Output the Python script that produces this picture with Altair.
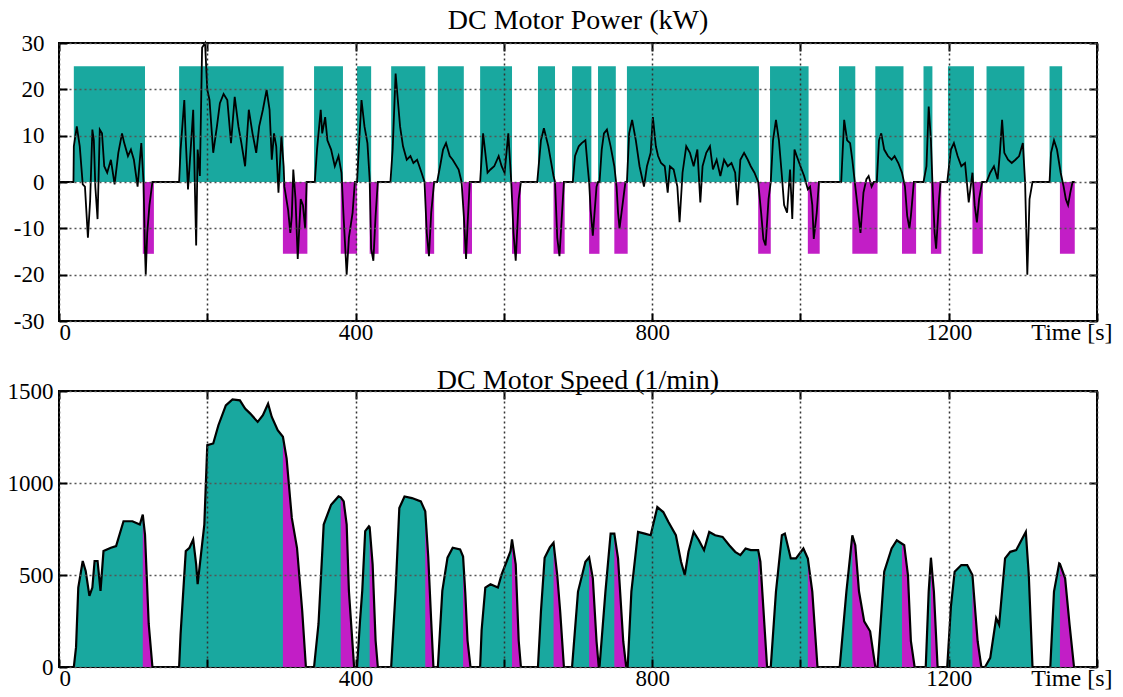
import altair as alt
import pandas as pd

TEAL = "#19a89f"
MAGENTA = "#c21ec6"
FONT = "Liberation Serif"
W = 1038

# Driving phases (motor work) and braking phases (recuperation), seconds
drive_start = [20, 162, 344, 402, 448, 511, 568, 646, 692, 727, 766, 959, 1052, 1101, 1166, 1199, 1251, 1336]
drive_end = [116, 303, 383, 421, 494, 546, 611, 669, 718, 751, 944, 1011, 1074, 1139, 1178, 1234, 1302, 1353]
brake_start = [113, 302, 380, 419, 494, 545, 611, 667, 715, 749, 943, 1010, 1070, 1137, 1176, 1232, 1350]
brake_end = [128, 335, 402, 431, 506, 557, 623, 682, 729, 767, 960, 1026, 1104, 1156, 1190, 1246, 1370]
drive_level = 25
brake_level = -15.5

# Motor power trace (s, kW)
power_t = [
    0, 19.5,
    20, 24, 28, 32, 35, 39, 42, 45, 47, 49, 52, 55, 58, 61, 65, 70, 75, 80, 85, 88, 93, 97, 101, 106, 111,
    114, 116, 117, 119, 122, 126,
    162, 164, 169, 171, 174, 179, 181, 185, 187, 190, 193, 197, 200, 203, 208, 213, 217, 222, 227, 232, 237,
    242, 246, 251, 256, 261, 266, 270, 275, 280, 284, 287, 290, 293, 296, 300, 303, 304, 309, 312, 314, 316,
    319, 322, 326, 329, 332, 334,
    345, 348, 353, 355, 359, 362, 367, 372, 377, 381, 384, 388, 391, 396, 399,
    402, 405, 408, 412, 416, 419, 421, 424, 427, 430,
    447, 450, 454, 457, 460, 464, 469, 474, 478, 483, 489, 493, 496, 499, 502, 506,
    510, 514, 518, 522, 527, 531, 539, 543, 546, 549, 551, 554,
    568, 572, 575, 578, 582, 587, 593, 597, 601, 606, 610, 613, 616, 620, 623,
    645, 650, 654, 660, 667, 669, 672, 675, 678, 681,
    693, 696, 701, 705, 710, 713, 715, 717, 720, 722, 725, 727,
    729, 732, 735, 739, 744, 749, 752, 754, 756, 760, 764,
    766, 769, 773, 778, 783, 789, 793, 798, 801, 805, 808, 812, 817, 821, 824, 829, 834, 837, 841, 846, 851,
    856, 861, 865, 868, 873, 878, 882, 887, 892, 897, 902, 907, 912, 915, 919, 924, 929, 933, 938, 943, 947,
    950, 953, 957, 960,
    963, 967, 971, 975, 978, 982, 986, 989, 992, 995, 1000, 1005, 1010, 1013, 1016, 1018, 1022, 1025,
    1055, 1059, 1063, 1067, 1070, 1074, 1078, 1081, 1085, 1089, 1092, 1096, 1099,
    1103, 1106, 1109, 1113, 1118, 1123, 1127, 1132, 1137, 1141, 1144, 1147, 1149, 1153,
    1166, 1170, 1173, 1176, 1178, 1181, 1183, 1187, 1189,
    1198, 1203, 1207, 1212, 1217, 1222, 1227, 1232, 1235, 1238, 1241, 1245,
    1251, 1256, 1261, 1266, 1269, 1272, 1275, 1280, 1285, 1290, 1295, 1300, 1303, 1306, 1309, 1313,
    1336, 1338, 1342, 1346, 1351, 1355, 1358, 1361, 1364, 1367, 1370,
]
power_kw = [
    0, 0,
    7.7, 12, 7.7, -0.5, -1, -12, -4, 11.3, 9, -1, -8, 11.3, 10.5, 3.4, 2, 4.8, -0.5, 6.3, 10.5, 8.4, 5.6, 7, 4.8, -1, 8.4,
    0, -15, -20, -11, -5, 0,
    0, 7, 17.7, 9, -1.6, 10.5, 15.6, -13.7, 7, 1.3, 29, 30, 19.9, 17.7, 6.3, 12, 17, 19, 17.7, 8.4, 18.4,
    12, 8.4, 3.4, 15.6, 10.5, 6.3, 12, 15.6, 19.9, 15.6, 4.8, 10.5, 7.7, -2.3, 9.9, 3.4, -1, -6, -11, -7.3, 2.7,
    -3.7, -16.6, -3.7, -5, -10, 0,
    0, 7, 15.6, 10.5, 14, 9, 7, 3.4, 5.6, 2, -8, -20, -12, -6.6, 0,
    0, 9, 17.7, 12, 8.4, 0.6, -14.4, -17, -7.3, 0,
    0, 7, 23.4, 17.7, 12, 7.7, 4.8, 5.6, 4.1, 4.8, 2, 0, -11, -16, -6.6, 0,
    0, 3.4, 7, 8.4, 5.6, 4.8, 2.7, 0, -7.3, -16.6, -9.4, 0,
    0, 10.5, 6.3, 2, 2.7, 3.4, 5.6, 3.4, 2, 10.5, 0, -11, -17, -3.7, 0,
    0, 9, 11.6, 7.7, 1.3, 0, -12, -16, -8, 0,
    0, 5.6, 7.7, 8.4, 9, 3.4, 0, -6, -11.6, -7.3, -1, 0,
    0, 7, 10.5, 11.3, 7.7, 3.4, -1, -6.6, -10, -5, 0,
    0, 10.5, 13.4, 9, 3.4, -1, 3.4, 6.3, 14, 7.7, 5.6, 4.1, 3.4, -2.3, 3.4, 2.7, -1, -8.7, 2, 7.7, 6.3,
    3.4, 7, -4.4, 3.4, 6.3, 7.7, 2.7, 4.8, 1.3, 4.8, 3.4, 4.1, 2, -5, 4.8, 6.3, 4.8, 3.4, 2, 0, -6.6,
    -12.3, -13.7, -3.7, 0,
    9, 13.4, 9, 1.3, -5, -6.6, 2.7, -8, 7, 5.6, 3.4, 1.3, -1.6, -1, -5, -12.3, -6.6, 0,
    0, 13.4, 9, 8.4, 4.8, -1, -6.6, -11, -2.3, 0.6, 1.3, -1, 0,
    0, 9, 10.5, 7, 5.6, 4.8, 5.6, 4.1, 2, -1, -7.3, -10, -7.3, 0,
    0, 3.4, 16.3, 9, 0, -11, -14.4, -3.7, 0,
    0, 7, 8.4, 5.6, 3.4, 4.1, -4.4, 2, -5, -8.7, -3.7, 0,
    0, 2, 3.4, 0.6, 6.3, 13.4, 6.3, 4.8, 4.1, 4.8, 5.6, 8.4, 0, -20, -3.7, 0,
    0, 6.3, 9, 7, 2, -1, -3.7, -5, -2.3, 0, 0,
]

# Motor speed trace (s, 1/min)
speed_t = [
    0, 20, 23, 26, 32, 36, 41, 45, 48, 52, 56, 60, 70, 77, 87, 99, 109, 113, 116, 121, 126,
    162, 164, 171, 176, 181, 185, 187, 191, 196, 200, 208, 215, 225, 234, 244, 251, 258, 268, 275, 282, 287,
    295, 302, 307, 314, 321, 328, 333,
    344, 350, 357, 367, 377, 380, 384, 388, 391, 398,
    402, 406, 409, 413, 418, 419, 423, 427, 430,
    448, 454, 459, 466, 476, 488, 494, 498, 502, 505,
    511, 517, 524, 531, 541, 545, 548, 551, 555,
    568, 570, 575, 582, 592, 597, 604, 609, 611, 616, 620, 623,
    646, 650, 655, 662, 667, 672, 676, 681,
    692, 700, 710, 715, 720, 725, 728,
    729, 737, 744, 749, 754, 761, 765,
    767, 772, 781, 790, 798, 807, 815, 822, 832, 839, 844, 849, 856, 863, 870, 877, 885, 895, 904, 912, 919,
    926, 933, 943, 946, 950, 955,
    960, 967, 975, 979, 987, 994, 1004, 1010, 1016, 1023,
    1053, 1062, 1070, 1074, 1079, 1086, 1094, 1101,
    1104, 1113, 1123, 1130, 1137, 1140, 1145, 1149, 1154,
    1169, 1173, 1176, 1180, 1185,
    1198, 1203, 1208, 1217, 1225, 1232, 1239, 1244,
    1249, 1256, 1264, 1268, 1276, 1283, 1291, 1298, 1304, 1308, 1313,
    1337, 1342, 1349, 1350, 1357, 1363, 1369,
]
speed_rpm = [
    0, 0, 108, 432, 576, 522, 387, 432, 576, 576, 414, 630, 648, 657, 792, 792, 774, 828, 720, 234, 0,
    0, 180, 630, 648, 693, 558, 450, 594, 774, 1206, 1215, 1314, 1422, 1454, 1449, 1404, 1377, 1332, 1368, 1431, 1359,
    1287, 1251, 1134, 810, 648, 306, 0,
    0, 234, 774, 882, 927, 922, 900, 774, 414, 0,
    0, 250, 414, 738, 765, 760, 558, 144, 0,
    0, 414, 864, 927, 918, 900, 846, 600, 250, 0,
    0, 414, 594, 648, 639, 600, 400, 144, 0,
    0, 200, 432, 450, 432, 504, 576, 630, 693, 558, 144, 0,
    0, 300, 594, 650, 675, 500, 300, 0,
    0, 410, 572, 596, 482, 140, 0,
    0, 410, 725, 725, 590, 140, 0,
    0, 410, 734, 725, 716, 869, 842, 788, 716, 572, 500, 626, 734, 689, 635, 734, 716, 707, 662, 626, 608,
    644, 635, 635, 572, 320, 0,
    0, 410, 716, 725, 590, 590, 644, 590, 410, 0,
    0, 410, 716, 662, 410, 248, 194, 0,
    0, 518, 644, 689, 670, 662, 500, 140, 0,
    0, 410, 594, 410, 0,
    0, 330, 518, 554, 554, 500, 140, 0,
    0, 50, 266, 230, 590, 626, 635, 689, 734, 500, 0,
    0, 410, 563, 560, 482, 230, 0,
]

x_ticks = [0, 200, 400, 600, 800, 1000, 1200, 1400]

drive_df = pd.DataFrame({"t0": drive_start, "t1": drive_end, "lo": 0, "hi": drive_level})
brake_df = pd.DataFrame({"t0": brake_start, "t1": brake_end, "lo": brake_level, "hi": 0})
power_df = pd.DataFrame({"t": power_t, "kw": power_kw})
power_df["i"] = range(len(power_df))
speed_df = pd.DataFrame({"t": speed_t, "rpm": speed_rpm})

# speed samples that fall inside each braking phase
parts = []
for k, (b0, b1) in enumerate(zip(brake_start, brake_end)):
    part = speed_df[(speed_df.t >= b0) & (speed_df.t <= b1)].copy()
    part["k"] = k
    parts.append(part)
brake_speed_df = pd.concat(parts, ignore_index=True)

xs = alt.Scale(domain=[0, 1400], nice=False, zero=False)


def x_axis_main():
    return alt.Axis(
        values=x_ticks, format="d",
        labelExpr="datum.value % 400 == 0 && datum.value < 1400 ? datum.label : ''",
        labelFont=FONT, labelFontSize=23, labelColor="black", labelPadding=0, labelOverlap=False,
        grid=True, gridColor="#333", gridDash=[2, 3], gridWidth=1.5,
        domain=False, tickSize=8, tickColor="black", tickWidth=2, offset=-8,
        title="Time [s]", titleFont=FONT, titleFontSize=24, titleFontWeight="normal", titleColor="black",
        titleAlign="right", titleBaseline="top", titleX=W + 15, titleY=7, zindex=1,
    )


def x_axis_top():
    return alt.Axis(orient="top", values=x_ticks, labels=False, grid=False, domain=False,
                    tickSize=8, tickColor="black", tickWidth=2, offset=-8, title=None)


def y_axis_main(vals, pad):
    return alt.Axis(
        values=vals, labelExpr="datum.value < 0 ? '-' + abs(datum.value) : '' + datum.value",
        labelFont=FONT, labelFontSize=23, labelColor="black", labelPadding=pad,
        grid=True, gridColor="#555", gridDash=[2, 3], gridWidth=1.3,
        domain=False, tickSize=8, tickColor="black", tickWidth=2, offset=-8, title=None, zindex=1,
    )


def y_axis_right(vals):
    return alt.Axis(orient="right", values=vals, labels=False, grid=False, domain=False,
                    tickSize=8, tickColor="black", tickWidth=2, offset=-8, title=None)


def panel_title(text, off):
    return alt.TitleParams(text, font=FONT, fontSize=28, fontWeight="normal", color="black", offset=off)


# --- power panel ---
ys_p = alt.Scale(domain=[-30, 30], nice=False)
p_vals = [-30, -20, -10, 0, 10, 20, 30]

drive_rects = alt.Chart(drive_df).mark_rect(color=TEAL).encode(
    x=alt.X("t0:Q", scale=xs, axis=x_axis_main()), x2="t1:Q",
    y=alt.Y("hi:Q", scale=ys_p, axis=y_axis_main(p_vals, 15)), y2="lo:Q",
)
brake_rects = alt.Chart(brake_df).mark_rect(color=MAGENTA).encode(
    x=alt.X("t0:Q", scale=xs, axis=None), x2="t1:Q",
    y=alt.Y("hi:Q", scale=ys_p, axis=None), y2="lo:Q",
)
power_line = alt.Chart(power_df).mark_line(color="black", strokeWidth=1.8).encode(
    x=alt.X("t:Q", scale=xs, axis=x_axis_top()),
    y=alt.Y("kw:Q", scale=ys_p, axis=y_axis_right(p_vals)),
    order="i:Q",
)
power_panel = alt.layer(drive_rects, brake_rects, power_line).resolve_axis(
    x="independent", y="independent"
).properties(width=W, height=278, title=panel_title("DC Motor Power (kW)", -3))

# --- speed panel ---
ys_s = alt.Scale(domain=[0, 1500], nice=False)
s_vals = [0, 500, 1000, 1500]

speed_area = alt.Chart(speed_df).mark_area(color=TEAL).encode(
    x=alt.X("t:Q", scale=xs, axis=x_axis_main()),
    y=alt.Y("rpm:Q", scale=ys_s, axis=y_axis_main(s_vals, 6)),
)
brake_area = alt.Chart(brake_speed_df).mark_area(color=MAGENTA).encode(
    x=alt.X("t:Q", scale=xs, axis=None),
    y=alt.Y("rpm:Q", scale=ys_s, axis=None, stack=None),
    detail="k:N",
)
speed_line = alt.Chart(speed_df).mark_line(color="black", strokeWidth=2.2).encode(
    x=alt.X("t:Q", scale=xs, axis=x_axis_top()),
    y=alt.Y("rpm:Q", scale=ys_s, axis=y_axis_right(s_vals)),
)
speed_panel = alt.layer(speed_area, brake_area, speed_line).resolve_axis(
    x="independent", y="independent"
).properties(width=W, height=276, title=panel_title("DC Motor Speed (1/min)", -15))

chart = alt.vconcat(power_panel, speed_panel, spacing=21).properties(
    padding={"left": 6, "top": 6, "right": 5, "bottom": 5}
).configure_view(stroke="black", strokeWidth=2)

chart.save("out.html", embed_options={"renderer": "svg", "actions": False})
